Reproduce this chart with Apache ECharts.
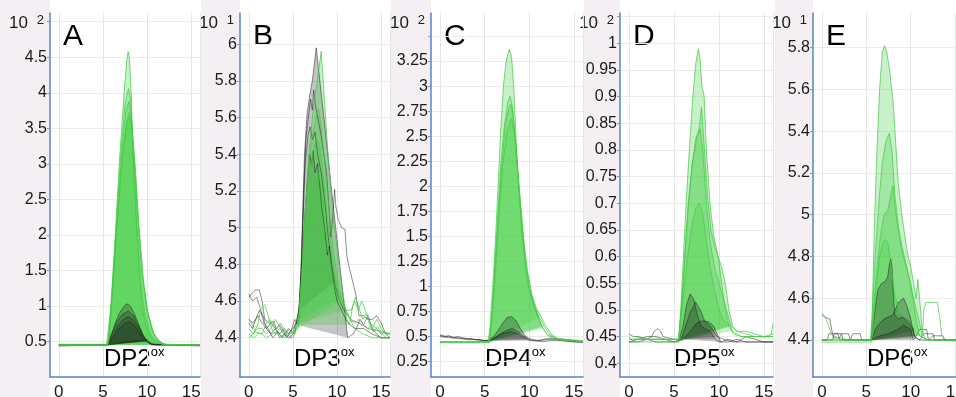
<!DOCTYPE html>
<html>
<head>
<meta charset="utf-8">
<script src="https://cdn.jsdelivr.net/npm/echarts@6/dist/echarts.min.js"></script>
<style>
  html, body { margin: 0; padding: 0; background: #fff; }
  #chart { width: 956px; height: 397px; }
</style>
</head>
<body>
<div id="chart"></div>
<script>
// retention time (min) on x, intensity on y; green = treated, black = control
const xTickVals = [0, 5, 10, 15, 16];
const xLabelVals = [0, 5, 10, 15];

// --- panel A, DP2ox (x10^2)
const aTicks = [0.5, 1, 1.5, 2, 2.5, 3, 3.5, 4, 4.5, 5];
const aLabels = [0.5, 1, 1.5, 2, 2.5, 3, 3.5, 4, 4.5];
const aGreen = [
  [[0,0.45],[5.4,0.45],[5.5,0.47],[5.9,1.0],[6.4,2.0],[6.85,3.0],[7.4,4.0],[7.7,4.45],[7.85,4.58],[8.0,4.5],[8.2,4.0],[8.45,3.0],[8.85,2.0],[9.4,1.0],[9.9,0.7],[10.5,0.55],[11.2,0.48],[12,0.45],[16,0.45]],
  [[0,0.45],[5.5,0.45],[5.6,0.5],[6.0,1.1],[6.5,2.1],[7.0,3.1],[7.5,3.85],[7.9,4.06],[8.15,3.9],[8.4,3.2],[8.8,2.2],[9.3,1.3],[9.8,0.85],[10.4,0.6],[11,0.5],[11.8,0.46],[16,0.45]],
  [[0,0.44],[5.5,0.44],[5.65,0.55],[6.05,1.2],[6.6,2.2],[7.1,3.1],[7.6,3.75],[7.95,3.88],[8.2,3.7],[8.5,3.1],[8.9,2.3],[9.4,1.5],[9.9,1.0],[10.5,0.68],[11.1,0.52],[12,0.46],[16,0.45]],
  [[0,0.45],[5.55,0.45],[5.7,0.55],[6.1,1.2],[6.7,2.3],[7.2,3.1],[7.7,3.6],[8.0,3.72],[8.25,3.6],[8.6,3.0],[9.0,2.2],[9.5,1.4],[10.0,0.95],[10.6,0.65],[11.3,0.5],[12.2,0.45],[16,0.45]],
  [[0,0.45],[5.5,0.45],[5.7,0.6],[6.1,1.3],[6.7,2.4],[7.3,3.2],[7.8,3.6],[8.05,3.66],[8.3,3.5],[8.7,2.9],[9.1,2.1],[9.6,1.35],[10.1,0.9],[10.8,0.6],[11.6,0.48],[12.5,0.45],[16,0.45]]
];
const aGreenFill = [[5.4, 12], [5.5, 11.8], [5.5, 12], [5.55, 12.2], [5.5, 12.5]];
const aBlack = [
  [[0,0.45],[5.5,0.45],[5.9,0.58],[6.3,0.72],[6.8,0.88],[7.3,0.98],[7.7,1.03],[8.1,1.0],[8.6,0.88],[9.1,0.72],[9.6,0.58],[10.0,0.5],[10.5,0.46],[16,0.45]],
  [[0,0.46],[5.5,0.46],[6.0,0.6],[6.6,0.78],[7.2,0.88],[7.9,0.93],[8.5,0.86],[9.0,0.74],[9.5,0.6],[10.0,0.5],[10.6,0.46],[16,0.45]],
  [[0,0.45],[5.6,0.45],[6.1,0.58],[6.7,0.72],[7.3,0.81],[7.9,0.85],[8.5,0.8],[9.0,0.7],[9.5,0.58],[10.0,0.5],[10.5,0.46],[16,0.45]],
  [[0,0.44],[5.6,0.45],[6.2,0.56],[6.8,0.68],[7.4,0.75],[8.0,0.78],[8.6,0.72],[9.1,0.63],[9.6,0.54],[10.0,0.5],[10.5,0.45],[16,0.44]],
  [[0,0.44],[5.5,0.45],[6.5,0.47],[7.5,0.49],[8.5,0.51],[9.5,0.52],[10.0,0.53],[10.4,0.48],[11,0.45],[16,0.44]]
];
const aBlackFill = [[5.5, 10.0], [5.5, 10.0], [5.6, 10.0], [5.6, 10.0], [5.5, 10.0]];

// --- panel B, DP3ox (x10^1)
const bTicks = [4.4, 4.6, 4.8, 5, 5.2, 5.4, 5.6, 5.8, 6];
const bLabels = [4.4, 4.6, 4.8, 5, 5.2, 5.4, 5.6, 5.8, 6];
const bGreen = [
  [[0,4.5],[0.4,4.47],[0.8,4.43],[1.5,4.42],[2.0,4.48],[2.4,4.5],[2.8,4.47],[3.2,4.45],[3.6,4.48],[4.0,4.45],[4.4,4.4],[5.0,4.4],[5.6,4.47],[6.0,4.7],[6.4,5.1],[6.8,5.4],[7.2,5.6],[7.6,5.75],[7.9,5.85],[8.2,5.96],[8.5,5.75],[8.9,5.45],[9.3,5.2],[9.7,5.0],[10.1,4.85],[10.5,4.7],[10.8,4.6],[11.1,4.5],[11.4,4.47],[11.8,4.58],[12.1,4.62],[12.5,4.56],[12.9,4.5],[13.3,4.53],[13.7,4.47],[14.1,4.43],[14.6,4.46],[15.1,4.42],[15.6,4.4],[16,4.4]],
  [[0,4.45],[0.5,4.42],[1,4.47],[1.4,4.56],[1.8,4.58],[2.2,4.52],[2.6,4.45],[3,4.42],[3.5,4.45],[4,4.42],[4.5,4.44],[5,4.42],[5.6,4.48],[6.0,4.75],[6.4,5.1],[6.8,5.35],[7.2,5.5],[7.6,5.6],[7.9,5.65],[8.2,5.55],[8.6,5.35],[9.0,5.15],[9.4,4.95],[9.8,4.8],[10.2,4.68],[10.6,4.6],[11.0,4.55],[11.6,4.55],[12.0,4.6],[12.4,4.55],[12.8,4.6],[13.2,4.55],[13.6,4.5],[14,4.45],[14.5,4.5],[15,4.45],[15.5,4.42],[16,4.42]],
  [[0,4.4],[0.5,4.42],[1,4.45],[1.5,4.45],[2,4.42],[2.5,4.45],[3,4.5],[3.4,4.47],[3.8,4.43],[4.3,4.42],[4.8,4.4],[5.7,4.5],[6.1,4.8],[6.5,5.1],[6.9,5.3],[7.3,5.42],[7.7,5.48],[8.0,5.45],[8.4,5.3],[8.8,5.1],[9.2,4.92],[9.6,4.78],[10.0,4.68],[10.4,4.62],[11.0,4.55],[11.5,4.5],[12,4.48],[12.5,4.5],[13,4.47],[13.5,4.45],[14,4.47],[14.5,4.45],[15,4.42],[15.5,4.43],[16,4.42]],
  [[0,4.42],[0.6,4.4],[1.2,4.43],[2,4.4],[3,4.43],[4,4.4],[5.6,4.45],[6.0,4.65],[6.5,4.95],[7.0,5.15],[7.5,5.28],[7.9,5.3],[8.3,5.2],[8.7,5.0],[9.1,4.85],[9.5,4.72],[9.9,4.65],[10.3,4.6],[11,4.55],[11.5,4.5],[12,4.45],[13,4.42],[14,4.4],[16,4.4]]
];
const bGreenFill = [[5.6, 11.4], [5.6, 11.0], [5.7, 10.4], [5.6, 10.3]];
const bBlack = [
  [[0,4.62],[0.3,4.64],[0.7,4.66],[1.2,4.66],[1.5,4.6],[1.8,4.5],[2.3,4.48],[2.8,4.49],[3.1,4.45],[3.5,4.47],[3.9,4.44],[4.3,4.4],[4.8,4.44],[5.2,4.5],[5.55,4.47],[5.75,4.58],[6.0,4.85],[6.3,5.39],[6.6,5.62],[6.9,5.72],[7.2,5.8],[7.45,5.9],[7.64,5.98],[8.3,5.69],[8.8,5.47],[9.3,5.24],[9.8,5.02],[10.3,4.8],[10.8,4.58],[11.2,4.4],[11.8,4.42],[12.2,4.45],[12.6,4.5],[13.0,4.47],[13.5,4.52],[14.0,4.45],[14.5,4.42],[15.0,4.4],[16,4.4]],
  [[0,4.48],[0.4,4.45],[0.8,4.5],[1.2,4.55],[1.6,4.52],[2.0,4.45],[2.5,4.42],[3.0,4.45],[3.5,4.42],[4.0,4.45],[4.5,4.42],[5.0,4.45],[5.6,4.5],[5.9,4.75],[6.2,5.2],[6.5,5.5],[6.8,5.62],[7.0,5.7],[7.2,5.64],[7.35,5.75],[7.6,5.65],[7.9,5.58],[8.2,5.5],[8.5,5.4],[8.8,5.3],[9.1,5.1],[9.3,4.95],[9.5,5.05],[9.72,5.21],[9.85,5.12],[10.1,5.05],[10.5,5.0],[10.9,4.99],[11.1,4.85],[11.3,4.8],[11.8,4.7],[12.1,4.64],[12.5,4.52],[13,4.52],[13.5,4.5],[14,4.5],[14.5,4.52],[15,4.48],[15.5,4.42],[16,4.4]],
  [[0,4.5],[0.5,4.48],[1,4.52],[1.5,4.48],[2,4.45],[2.5,4.48],[3,4.45],[3.5,4.4],[4,4.42],[4.5,4.4],[5,4.42],[5.7,4.55],[6.0,4.8],[6.4,5.1],[6.7,5.3],[6.9,5.4],[7.1,5.35],[7.3,5.42],[7.5,5.3],[7.8,5.35],[8.0,5.25],[8.3,5.1],[8.6,5.0],[8.9,4.85],[9.1,4.9],[9.3,4.8],[9.6,4.7],[10,4.6],[10.5,4.55],[11,4.5],[11.5,4.47],[12,4.45],[13,4.45],[14,4.42],[15,4.4],[16,4.4]],
  [[0,4.64],[0.4,4.6],[0.9,4.62],[1.3,4.56],[1.7,4.48],[2.2,4.45],[2.7,4.4],[3.3,4.43],[3.8,4.4],[4.5,4.45],[5.2,4.42],[5.8,4.6],[6.1,5.0],[6.4,5.35],[6.7,5.5],[6.95,5.55],[7.2,5.48],[7.5,5.52],[7.8,5.4],[8.2,5.3],[8.6,5.15],[9.0,4.95],[9.4,4.8],[9.8,4.68],[10.3,4.6],[10.8,4.55],[11.5,4.5],[12.5,4.48],[13.5,4.45],[14.5,4.44],[16,4.42]]
];
const bBlackFill = [[5.55, 11.2], null, [5.7, 9.6], null];

// --- panel C, DP4ox (x10^2)
const cTicks = [0.25, 0.5, 0.75, 1, 1.25, 1.5, 1.75, 2, 2.25, 2.5, 2.75, 3, 3.25, 3.5];
const cLabels = [0.25, 0.5, 0.75, 1, 1.25, 1.5, 1.75, 2, 2.25, 2.5, 2.75, 3, 3.25];
const cGreen = [
  [[0,0.45],[5.4,0.45],[5.6,0.6],[5.9,1.0],[6.2,1.45],[6.5,2.0],[6.8,2.55],[7.1,3.0],[7.4,3.25],[7.76,3.37],[8.0,3.3],[8.25,3.0],[8.5,2.5],[8.8,2.0],[9.2,1.5],[9.6,1.15],[9.9,1.0],[10.4,0.85],[10.9,0.72],[11.4,0.6],[12,0.52],[13,0.48],[14,0.47],[15,0.46],[16,0.45]],
  [[0,0.44],[5.5,0.44],[5.7,0.6],[6.0,1.0],[6.4,1.6],[6.8,2.2],[7.2,2.6],[7.6,2.85],[7.85,2.9],[8.1,2.8],[8.4,2.5],[8.8,2.0],[9.2,1.55],[9.6,1.2],[10.0,0.98],[10.5,0.8],[11.0,0.68],[11.5,0.58],[12.2,0.5],[13,0.47],[16,0.45]],
  [[0,0.45],[5.5,0.45],[5.7,0.6],[6.05,1.0],[6.5,1.65],[6.9,2.2],[7.3,2.6],[7.7,2.78],[7.95,2.82],[8.2,2.7],[8.5,2.4],[8.9,1.95],[9.3,1.5],[9.7,1.18],[10.1,0.96],[10.6,0.8],[11.1,0.7],[11.7,0.6],[12.3,0.52],[13,0.48],[16,0.46]],
  [[0,0.44],[5.5,0.44],[5.75,0.6],[6.1,1.0],[6.6,1.7],[7.0,2.2],[7.5,2.55],[8.0,2.68],[8.3,2.55],[8.6,2.25],[9.0,1.85],[9.4,1.45],[9.8,1.15],[10.3,0.92],[10.8,0.78],[11.3,0.7],[11.9,0.6],[12.5,0.52],[13.2,0.48],[16,0.45]]
];
const cGreenFill = [[5.4, 11.4], [5.5, 11.5], [5.5, 11.7], [5.5, 11.3]];
const cBlack = [
  [[0,0.52],[0.5,0.5],[1,0.51],[1.5,0.49],[2,0.5],[2.5,0.49],[3,0.48],[3.5,0.48],[4,0.47],[4.5,0.47],[5,0.46],[5.5,0.47],[6.0,0.5],[6.5,0.56],[7.0,0.63],[7.5,0.69],[8.0,0.7],[8.5,0.66],[9.0,0.58],[9.5,0.51],[10.0,0.48],[10.5,0.47],[11,0.46],[12,0.48],[13,0.48],[14,0.47],[15,0.46],[16,0.45]],
  [[0,0.5],[1,0.49],[2,0.48],[3,0.48],[4,0.47],[5,0.46],[5.6,0.46],[6.2,0.49],[6.8,0.53],[7.4,0.56],[8.1,0.58],[8.7,0.55],[9.3,0.51],[9.8,0.48],[10.2,0.46],[11,0.46],[12,0.47],[13,0.47],[14,0.46],[15,0.45],[16,0.45]],
  [[0,0.51],[1,0.5],[2,0.49],[3,0.47],[4,0.47],[5,0.46],[5.6,0.46],[6.3,0.5],[7.0,0.53],[7.9,0.55],[8.6,0.53],[9.2,0.5],[9.8,0.47],[10.5,0.46],[11.5,0.45],[12.5,0.46],[13.5,0.46],[14.5,0.45],[16,0.44]]
];
const cBlackFill = [[5.5, 10.0], [5.6, 10.2], [5.6, 9.8]];

// --- panel D, DP5ox (x10^2)
const dTicks = [0.4, 0.45, 0.5, 0.55, 0.6, 0.65, 0.7, 0.75, 0.8, 0.85, 0.9, 0.95, 1, 1.05];
const dLabels = [0.4, 0.45, 0.5, 0.55, 0.6, 0.65, 0.7, 0.75, 0.8, 0.85, 0.9, 0.95, 1];
const dGreen = [
  [[0,0.45],[0.5,0.44],[1,0.45],[2,0.445],[3,0.445],[4,0.445],[5,0.44],[5.5,0.44],[5.75,0.5],[6.05,0.6],[6.35,0.7],[6.7,0.8],[7.1,0.9],[7.4,0.96],[7.7,0.99],[7.9,0.97],[8.1,0.92],[8.35,0.9],[8.6,0.8],[9.0,0.7],[9.4,0.64],[9.9,0.6],[10.3,0.55],[10.7,0.5],[11.1,0.47],[11.6,0.455],[12.5,0.45],[13.5,0.45],[14.5,0.45],[15.5,0.45],[15.8,0.455],[16,0.475]],
  [[0,0.44],[5.5,0.44],[5.8,0.5],[6.2,0.6],[6.6,0.7],[7.0,0.77],[7.4,0.82],[7.8,0.84],[8.05,0.88],[8.3,0.82],[8.7,0.72],[9.1,0.65],[9.5,0.62],[9.9,0.6],[10.3,0.58],[10.7,0.55],[11.1,0.5],[11.5,0.47],[12,0.46],[13,0.46],[14,0.455],[15,0.45],[16,0.455]],
  [[0,0.445],[5.5,0.445],[5.8,0.5],[6.2,0.6],[6.6,0.7],[7.0,0.77],[7.5,0.82],[7.9,0.84],[8.2,0.8],[8.6,0.7],[9.0,0.63],[9.5,0.58],[10,0.55],[10.5,0.52],[11,0.49],[11.5,0.46],[12.5,0.45],[16,0.45]],
  [[0,0.445],[5.6,0.445],[6.0,0.52],[6.5,0.6],[7.0,0.66],[7.4,0.69],[7.8,0.7],[8.2,0.68],[8.6,0.63],[9.0,0.58],[9.5,0.54],[10,0.5],[10.5,0.48],[11.3,0.47],[12,0.46],[13,0.455],[14,0.45],[16,0.45]]
];
const dGreenFill = [[5.5, 11.1], [5.5, 11.5], [5.5, 11.5], [5.6, 11.3]];
const dBlack = [
  [[0,0.455],[0.5,0.45],[1,0.45],[1.5,0.448],[2,0.445],[2.5,0.45],[2.8,0.46],[3.2,0.465],[3.5,0.46],[3.8,0.45],[4.2,0.448],[5,0.445],[5.6,0.445],[6.0,0.47],[6.4,0.51],[6.8,0.53],[7.2,0.52],[7.6,0.49],[8.0,0.47],[8.5,0.465],[9.0,0.46],[9.6,0.445],[10,0.44],[11,0.44],[12,0.445],[13,0.44],[14,0.44],[15,0.44],[16,0.44]],
  [[0,0.44],[1,0.445],[2,0.45],[3,0.45],[4,0.445],[5,0.44],[5.8,0.445],[6.3,0.47],[6.8,0.495],[7.4,0.515],[7.9,0.5],[8.4,0.48],[9.0,0.47],[9.8,0.45],[10.5,0.445],[11.5,0.44],[13,0.44],[16,0.44]],
  [[0,0.44],[1,0.44],[2,0.445],[3,0.44],[4,0.44],[5,0.44],[6.0,0.445],[6.8,0.46],[7.5,0.475],[8.2,0.48],[8.8,0.478],[9.4,0.47],[9.8,0.455],[10.2,0.44],[11,0.445],[12,0.44],[13,0.45],[14,0.445],[15,0.44],[16,0.44]]
];
const dBlackFill = [[5.6, 9.6], [5.8, 9.8], [6.0, 10.2]];

// --- panel E, DP6ox (x10^1)
const eTicks = [4.4, 4.6, 4.8, 5, 5.2, 5.4, 5.6, 5.8];
const eLabels = [4.4, 4.6, 4.8, 5, 5.2, 5.4, 5.6, 5.8];
const eGreen = [
  [[0,4.53],[0.2,4.52],[0.5,4.5],[0.9,4.45],[1.2,4.42],[2,4.41],[3,4.4],[4,4.4],[5,4.4],[5.5,4.4],[5.65,4.5],[5.8,4.75],[5.95,5.0],[6.2,5.3],[6.5,5.6],[6.8,5.78],[7.06,5.81],[7.3,5.78],[7.6,5.7],[8.0,5.55],[8.3,5.35],[8.6,5.15],[9.0,5.0],[9.4,4.88],[9.7,4.8],[10.0,4.75],[10.3,4.68],[10.6,4.6],[10.8,4.69],[11.0,4.6],[11.3,4.45],[11.6,4.4],[12,4.4],[13,4.4],[14,4.4],[16,4.4]],
  [[0,4.4],[5.5,4.4],[5.7,4.55],[6.0,4.8],[6.4,5.05],[6.8,5.25],[7.2,5.35],[7.6,5.39],[7.9,5.3],[8.2,5.1],[8.6,4.95],[9.0,4.85],[9.4,4.78],[9.8,4.7],[10.2,4.62],[10.6,4.55],[11.0,4.48],[11.3,4.42],[11.5,4.55],[11.7,4.58],[13.0,4.58],[13.3,4.5],[13.5,4.42],[14,4.4],[16,4.39]],
  [[0,4.4],[5.6,4.4],[5.8,4.55],[6.2,4.75],[6.6,4.9],[7.0,5.0],[7.4,5.02],[7.7,5.08],[8.0,5.14],[8.2,5.05],[8.5,4.95],[8.9,4.85],[9.3,4.78],[9.7,4.72],[10.1,4.65],[10.4,4.55],[10.7,4.48],[11,4.42],[12,4.4],[16,4.4]],
  [[0,4.39],[5.6,4.39],[5.8,4.5],[6.1,4.65],[6.5,4.8],[6.9,4.87],[7.2,4.88],[7.5,4.85],[7.8,4.75],[8.2,4.62],[8.6,4.55],[9.0,4.52],[9.5,4.5],[10,4.48],[10.4,4.45],[11,4.42],[12,4.4],[16,4.4]]
];
const eGreenFill = [[5.5, 11.3], [5.5, 11.3], [5.6, 11.0], [5.6, 10.4]];
const eBlack = [
  [[0,4.52],[0.3,4.51],[0.9,4.5],[1.1,4.45],[1.3,4.41],[2,4.41],[2.2,4.43],[3,4.43],[3.2,4.4],[3.5,4.43],[4.3,4.43],[4.5,4.4],[5.5,4.4],[5.7,4.45],[6.0,4.55],[6.3,4.64],[6.7,4.67],[7.1,4.68],[7.4,4.7],[7.6,4.76],[7.75,4.79],[7.9,4.75],[8.05,4.62],[8.2,4.52],[8.6,4.5],[9.0,4.51],[9.5,4.5],[10.0,4.48],[10.3,4.45],[10.5,4.41],[11,4.4],[12,4.4],[16,4.4]],
  [[0,4.4],[1.2,4.4],[1.4,4.43],[2.2,4.43],[2.4,4.4],[5.6,4.4],[6.5,4.42],[7.5,4.43],[8.5,4.45],[9.2,4.47],[10.0,4.45],[10.3,4.4],[10.6,4.42],[11,4.45],[11.8,4.45],[12,4.4],[12.5,4.42],[13.6,4.42],[13.8,4.4],[15.2,4.4],[15.3,4.5],[15.5,4.55],[16,4.55]],
  [[0,4.4],[0.6,4.4],[0.8,4.43],[1.8,4.43],[2,4.4],[5.6,4.4],[6,4.45],[6.5,4.48],[7,4.5],[8,4.52],[8.6,4.58],[9.2,4.6],[9.6,4.56],[10,4.5],[10.4,4.42],[11,4.4],[11.5,4.43],[12.5,4.43],[12.7,4.4],[16,4.4]]
];
const eBlackFill = [[5.5, 10.5], [5.6, 10.3], [5.6, 10.4]];

const FONT = '"Liberation Sans", Arial, sans-serif';
const BLUE = '#5a82c6';
const PINK = '#f4eff3';
const INK = '#1a1a1a';
const GREEN_FILL = 'rgba(60,205,60,0.28)';
const GREEN_LINE = 'rgba(70,200,70,0.85)';
const BLACK_FILL = 'rgba(25,25,25,0.25)';
const BLACK_LINE = 'rgba(30,30,30,0.6)';

// layout of the five panels (pixels) and value ranges
const panels = [
  { letter: 'A', dp: 'DP2', exp: '2', strip: 0,   left: 50,  width: 150, yMin: 0,      yMax: 5.123, greenOnTop: false, ticks: aTicks, labels: aLabels, green: aGreen, greenFill: aGreenFill, black: aBlack, blackFill: aBlackFill },
  { letter: 'B', dp: 'DP3', exp: '1', strip: 201, left: 240, width: 150, yMin: 4.186,  yMax: 6.17,  greenOnTop: true,  ticks: bTicks, labels: bLabels, green: bGreen, greenFill: bGreenFill, black: bBlack, blackFill: bBlackFill },
  { letter: 'C', dp: 'DP4', exp: '2', strip: 391, left: 431, width: 152, yMin: 0.097,  yMax: 3.73,  greenOnTop: false, ticks: cTicks, labels: cLabels, green: cGreen, greenFill: cGreenFill, black: cBlack, blackFill: cBlackFill },
  { letter: 'D', dp: 'DP5', exp: '2', strip: 584, left: 620, width: 153, yMin: 0.3743, yMax: 1.0568, greenOnTop: false, ticks: dTicks, labels: dLabels, green: dGreen, greenFill: dGreenFill, black: dBlack, blackFill: dBlackFill },
  { letter: 'E', dp: 'DP6', exp: '1', strip: 775, left: 813, width: 151, yMin: 4.2228, yMax: 5.966, greenOnTop: false, ticks: eTicks, labels: eLabels, green: eGreen, greenFill: eGreenFill, black: eBlack, blackFill: eBlackFill }
];

const TOP = 13, HEIGHT = 364;

function part(pts, range) {
  return pts.filter(p => p[0] >= range[0] && p[0] <= range[1]);
}

function polygonSeries(i, pts, color) {
  return {
    type: 'custom', xAxisIndex: i, yAxisIndex: i, silent: true, clip: true,
    data: pts, encode: { x: 0, y: 1 },
    renderItem: function (params, api) {
      if (params.dataIndex !== 0) return null;
      return { type: 'polygon', shape: { points: pts.map(p => api.coord(p)) }, style: { fill: color } };
    }
  };
}

function lineSeries(i, pts, color) {
  return {
    type: 'line', xAxisIndex: i, yAxisIndex: i, silent: true, data: pts,
    symbol: 'none', lineStyle: { width: 0.85, color: color }
  };
}

const grids = [], xAxes = [], yAxes = [], series = [], graphics = [];

panels.forEach((p, i) => {
  grids.push({ left: p.left, top: TOP, width: p.width, height: HEIGHT, outerBoundsMode: 'none' });
  xAxes.push({
    gridIndex: i, type: 'value', min: -1, max: 16,
    axisLine: { onZero: false, lineStyle: { color: BLUE, width: 1.5 } },
    axisTick: { show: false, customValues: xTickVals },
    axisLabel: { customValues: xLabelVals, fontSize: 17, fontFamily: FONT, color: INK, margin: 7 },
    splitLine: { show: true, lineStyle: { color: '#e6e6e6', width: 1 } }
  });
  yAxes.push({
    gridIndex: i, type: 'value', min: p.yMin, max: p.yMax,
    axisLine: { show: true, onZero: false, lineStyle: { color: BLUE, width: 1.5 } },
    axisTick: { show: true, length: 3, customValues: p.ticks, lineStyle: { color: '#7f97c8' } },
    axisLabel: { customValues: p.labels, fontSize: 16, fontFamily: FONT, color: INK, margin: 3,
      formatter: v => String(+(+v).toFixed(2)) },
    splitLine: { show: true, lineStyle: { color: '#ececec', width: 1 } }
  });

  const greenPolys = p.green.map((t, k) => polygonSeries(i, part(t, p.greenFill[k]), GREEN_FILL));
  const blackPolys = [];
  p.black.forEach((t, k) => { if (p.blackFill[k]) blackPolys.push(polygonSeries(i, part(t, p.blackFill[k]), BLACK_FILL)); });
  if (p.greenOnTop) series.push(...blackPolys, ...greenPolys);
  else series.push(...greenPolys, ...blackPolys);
  p.black.forEach(t => series.push(lineSeries(i, t, BLACK_LINE)));
  p.green.forEach(t => series.push(lineSeries(i, t, GREEN_LINE)));

  graphics.push({ type: 'rect', z: -10, shape: { x: p.strip, y: 0, width: p.left - p.strip, height: 397 }, style: { fill: PINK } });
  graphics.push({ type: 'text', x: p.left - 22, y: 23, style: { text: '10', font: '17px ' + FONT, fill: INK, align: 'right', verticalAlign: 'middle' } });
  graphics.push({ type: 'text', x: p.left - 6, y: 20, style: { text: p.exp, font: '13px ' + FONT, fill: INK, align: 'right', verticalAlign: 'middle' } });
  graphics.push({ type: 'text', x: p.left + 13, y: 37, style: { text: p.letter, font: '30px ' + FONT, fill: '#000', align: 'left', verticalAlign: 'middle' } });
  graphics.push({ type: 'text', x: p.left + 54, y: 359, style: {
    text: '{a|' + p.dp + '}{b|ox}', align: 'left', verticalAlign: 'middle',
    rich: {
      a: { fontSize: 24, fontFamily: FONT, fill: '#000', lineHeight: 26 },
      b: { fontSize: 13, fontFamily: FONT, fill: '#000', verticalAlign: 'top' }
    }
  } });
});

const chart = echarts.init(document.getElementById('chart'), null, { renderer: 'canvas' });
chart.setOption({
  animation: false,
  backgroundColor: '#fff',
  grid: grids,
  xAxis: xAxes,
  yAxis: yAxes,
  series: series,
  graphic: { elements: graphics }
});
</script>
</body>
</html>
